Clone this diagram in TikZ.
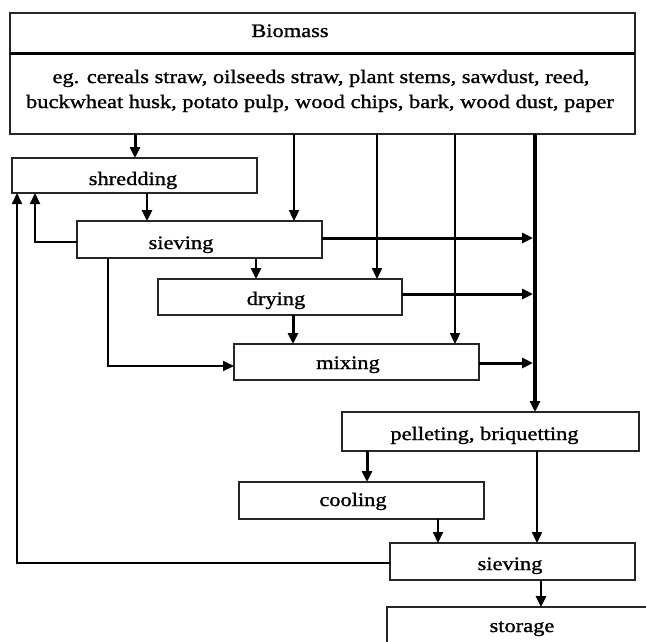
\documentclass[tikz,border=0pt]{standalone}
\usepackage{fontspec}
\setmainfont[FakeStretch=1.18,FakeBold=1.2]{Liberation Serif}
\usetikzlibrary{arrows.meta}
\tikzset{
  box/.style={draw=black!85, rectangle, line width=1.4pt, inner sep=0pt, outer sep=0pt,
              minimum width=245pt, minimum height=37pt},
  lbl/.style={anchor=base, inner sep=0pt, font=\fontsize{19}{24}\selectfont},
  conn/.style={line width=#1, -{Triangle[length=11pt,width=10pt]}},
  plain/.style={line width=#1}
}
\begin{document}
\begin{tikzpicture}[x=1pt,y=-1pt]
\useasboundingbox (0,0) rectangle (646,641);
\clip (0,0) rectangle (646,641);
% boxes
\node[box, minimum width=625pt, minimum height=121pt] (bio) at (322.5,73.5) {};
\draw[plain=3pt] (bio.west |- 0,53) -- (bio.east |- 0,53);
\node[box, minimum height=35pt] (shred) at (134.5,175.5) {};
\node[box] (siev1) at (199.5,239.5) {};
\node[box, minimum width=244pt, minimum height=36pt] (dry) at (280,297) {};
\node[box, minimum height=36pt] (mix) at (356.5,362) {};
\node[box, minimum width=297pt, minimum height=39pt] (pel) at (490.5,431.5) {};
\node[box] (cool) at (361.5,500.5) {};
\node[box] (siev2) at (512.5,561.5) {};
\node[box, minimum width=313pt, minimum height=93pt] (stor) at (543.5,653.5) {};
% texts
\node[lbl] (bioT) at (290,37) {Biomass};
\node[lbl] (ex1) at (321,83) {eg. cereals straw, oilseeds straw, plant stems, sawdust, reed,};
\node[lbl] (ex2) at (320,108) {buckwheat husk, potato pulp, wood chips, bark, wood dust, paper};
\node[lbl] (shredT) at (133,185) {shredding};
\node[lbl] (siev1T) at (181,249) {sieving};
\node[lbl] (dryT) at (276,305) {drying};
\node[lbl] (mixT) at (348,369) {mixing};
\node[lbl] (pelT) at (484.5,440) {pelleting, briquetting};
\node[lbl] (coolT) at (353,506) {cooling};
\node[lbl] (siev2T) at (510,570) {sieving};
\node[lbl] (storT) at (522,632) {storage};
% trunk
\coordinate (trunk) at (535,0);
\draw[conn=3.8pt] (trunk |- bio.south) -- (trunk |- pel.north);
% from biomass
\draw[conn=3pt] (135,0 |- bio.south) -- (135,0 |- shred.north);
\draw[conn=2.3pt] (294,0 |- bio.south) -- (294,0 |- siev1.north);
\draw[conn=2.3pt] (377,0 |- bio.south) -- (377,0 |- dry.north);
\draw[conn=2.3pt] (455,0 |- bio.south) -- (455,0 |- mix.north);
% main chain
\draw[conn=2.5pt] (147,0 |- shred.south) -- (147,0 |- siev1.north);
\draw[conn=2.5pt] (256,0 |- siev1.south) -- (256,0 |- dry.north);
\draw[conn=3pt] (293,0 |- dry.south) -- (293,0 |- mix.north);
% to trunk
\draw[conn=3pt] (siev1.east |- 0,238) -- (533,238);
\draw[conn=3pt] (dry.east |- 0,294) -- (533,294);
\draw[conn=3pt] (mix.east |- 0,363) -- (533,363);
% bypass and feedback
\draw[conn=2pt] (108,0 |- siev1.south) |- (mix.west |- 0,366);
\draw[conn=2pt] (siev1.west |- 0,242) -| (35,0 |- shred.south);
\draw[conn=2pt] (siev2.west |- 0,563) -| (17,0 |- shred.south);
% after pelleting
\draw[conn=3pt] (367,0 |- pel.south) -- (367,0 |- cool.north);
\draw[conn=2.3pt] (537,0 |- pel.south) -- (537,0 |- siev2.north);
\draw[conn=2pt] (438,0 |- cool.south) -- (438,0 |- siev2.north);
\draw[conn=2.5pt] (541,0 |- siev2.south) -- (541,0 |- stor.north);
\end{tikzpicture}
\end{document}
